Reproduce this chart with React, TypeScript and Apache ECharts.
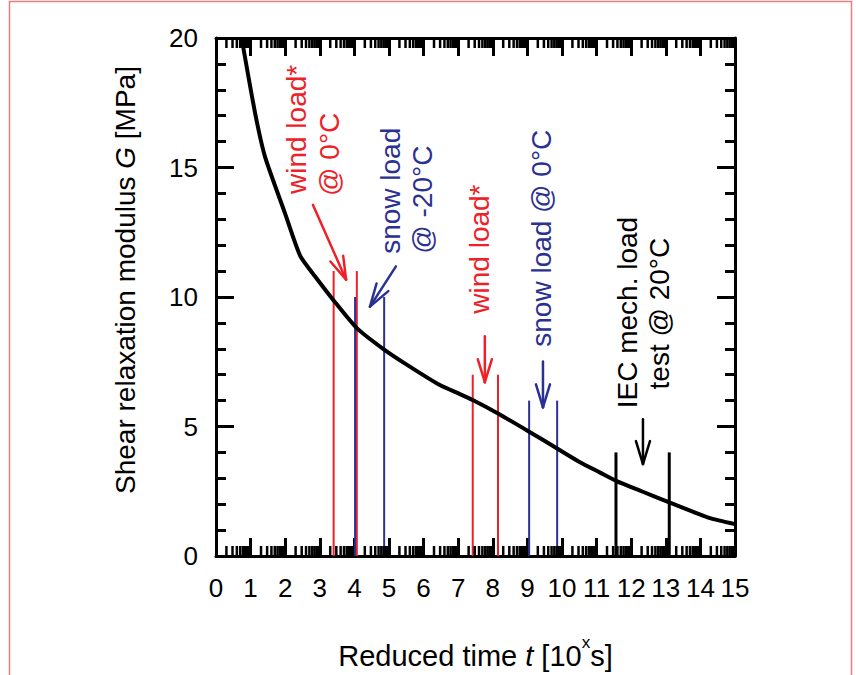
import React, { useEffect, useRef } from 'react';
import * as echarts from 'echarts';

const FONT = '"Liberation Sans", Arial, Helvetica, sans-serif';
const RED = '#ee2128';
const BLUE = '#2b3190';
const BLACK = '#000000';

// Master curve: reduced time (log10 s) vs shear relaxation modulus G (MPa)
const curveX = [0.74, 1.13, 1.42, 1.99, 2.43, 2.86, 3.44, 4.07, 4.83, 5.5, 6.47, 7.05, 7.42, 8.15, 9.05, 9.86, 10.52, 11.1, 11.56, 12.3, 13.1, 14.28, 15];
const curveG = [20, 17.1, 15.4, 13.25, 11.6, 10.8, 9.8, 8.8, 8.0, 7.4, 6.6, 6.25, 6.02, 5.5, 4.8, 4.15, 3.62, 3.22, 2.9, 2.5, 2.07, 1.46, 1.23];

// Load-duration windows (vertical bars)
const windLoad0X = [3.4, 4.07];
const windLoad0H = 11;
const snowLoadM20X = [4.02, 4.86];
const snowLoadM20H = 10;
const windLoadX = [7.42, 8.15];
const windLoadH = 7;
const snowLoad0X = [9.05, 9.86];
const snowLoad0H = 6;
const iecLoadX = [11.56, 13.1];
const iecLoadH = 4;

// Axis ticks
const xMin = 0, xMax = 15, yMin = 0, yMax = 20;
const decadeStarts = [0, 1, 2, 3, 4, 5, 6, 7, 8, 9, 10, 11, 12, 13, 14];
const minorMultipliers = [2, 3, 4, 5, 6, 7, 8, 9];

// Arrows (data coordinates)
const arrowFromX = [2.80, 5.20, 7.77, 9.45, 12.34];
const arrowFromY = [13.56, 11.18, 8.48, 7.51, 5.28];
const arrowToX = [3.76, 4.45, 7.77, 9.45, 12.34];
const arrowToY = [10.67, 9.63, 6.71, 5.74, 3.55];
const arrowColors = [RED, BLUE, RED, BLUE, BLACK];

// Annotation labels (rotated)
const labelTexts = ['wind load*', '@ 0°C', 'snow load', '@ -20°C', 'wind load*', 'snow load @ 0°C', 'IEC mech. load', 'test @ 20°C'];
const labelX = [2.34, 3.29, 5.03, 5.98, 7.63, 9.42, 11.88, 12.83];
const labelY = [16.47, 15.51, 14.10, 13.76, 11.85, 12.27, 9.40, 9.36];
const labelColors = [RED, RED, BLUE, BLUE, RED, BLUE, BLACK, BLACK];

function verticalSeries(xs: number[], h: number, color: string, width: number) {
  return xs.map((x) => ({
    type: 'line',
    data: [[x, 0], [x, h]],
    symbol: 'none',
    silent: true,
    z: 2,
    lineStyle: { color, width },
  }));
}

export default function App() {
  const ref = useRef<HTMLDivElement>(null);
  useEffect(() => {
    if (!ref.current) return;
    const chart = echarts.init(ref.current, undefined, { renderer: 'svg' });

    const minorTicks: number[][] = [];
    decadeStarts.forEach((d) => minorMultipliers.forEach((m) => minorTicks.push([d + Math.log10(m), 0])));

    const axisLine = { show: true, onZero: false, lineStyle: { color: BLACK, width: 3 } };
    const axisTick = { show: true, inside: true, length: 18, lineStyle: { color: BLACK, width: 3 } };

    const option: any = {
      animation: false,
      backgroundColor: '#ffffff',
      grid: { left: 216, right: 121, top: 38, bottom: 118, containLabel: false },
      graphic: [
        {
          type: 'rect',
          shape: { x: 9.5, y: 1.5, width: 842, height: 720 },
          style: { fill: 'none', stroke: '#ec7b82', lineWidth: 1.5 },
          silent: true,
        },
        {
          type: 'text',
          x: 125,
          y: 280,
          rotation: Math.PI / 2,
          style: {
            text: 'Shear relaxation modulus {i|G} [MPa]',
            fill: BLACK,
            fontSize: 28,
            fontFamily: FONT,
            align: 'center',
            verticalAlign: 'middle',
            rich: { i: { fontStyle: 'italic', fontSize: 28, fontFamily: FONT, fill: BLACK } },
          },
        },
      ],
      xAxis: [
        {
          type: 'value', position: 'bottom', min: xMin, max: xMax, interval: 1,
          axisLine, axisTick,
          axisLabel: { margin: 19, fontSize: 26, color: BLACK, fontFamily: FONT },
          splitLine: { show: false },
          name: 'Reduced time {i|t} [10{sup|x}s]',
          nameLocation: 'middle',
          nameGap: 78,
          nameTextStyle: {
            fontSize: 29, color: BLACK, fontFamily: FONT,
            rich: {
              i: { fontSize: 29, fontStyle: 'italic', fontFamily: FONT, color: BLACK },
              sup: { fontSize: 17, fontFamily: FONT, color: BLACK, verticalAlign: 'bottom', padding: [0, 0, 26, 0] },
            },
          },
        },
        {
          type: 'value', position: 'top', min: xMin, max: xMax, interval: 1,
          axisLine, axisTick, axisLabel: { show: false }, splitLine: { show: false },
        },
      ],
      yAxis: [
        {
          type: 'value', position: 'left', min: yMin, max: yMax, interval: 5,
          axisLine, axisTick,
          minorTick: { show: true, splitNumber: 5, length: 10, lineStyle: { color: BLACK, width: 3 } },
          axisLabel: { margin: 18, fontSize: 26, color: BLACK, fontFamily: FONT },
          splitLine: { show: false },
        },
        {
          type: 'value', position: 'right', min: yMin, max: yMax, interval: 5,
          axisLine, axisTick,
          minorTick: { show: true, splitNumber: 5, length: 10, lineStyle: { color: BLACK, width: 3 } },
          axisLabel: { show: false },
          splitLine: { show: false },
        },
      ],
      series: [
        // log-spaced minor ticks on top and bottom axes
        {
          type: 'custom',
          silent: true,
          z: 5,
          clip: false,
          data: minorTicks,
          encode: { x: 0, y: 1 },
          renderItem: (params: any, api: any) => {
            const x = api.value(0);
            const pb = api.coord([x, yMin]);
            const pt = api.coord([x, yMax]);
            const st = { stroke: BLACK, lineWidth: 2.5 };
            return {
              type: 'group',
              children: [
                { type: 'line', shape: { x1: pb[0], y1: pb[1], x2: pb[0], y2: pb[1] - 10 }, style: st },
                { type: 'line', shape: { x1: pt[0], y1: pt[1], x2: pt[0], y2: pt[1] + 10 }, style: st },
              ],
            };
          },
        },
        ...verticalSeries(windLoad0X, windLoad0H, RED, 2),
        ...verticalSeries(snowLoadM20X, snowLoadM20H, BLUE, 2),
        ...verticalSeries(windLoadX, windLoadH, RED, 2),
        ...verticalSeries(snowLoad0X, snowLoad0H, BLUE, 2),
        ...verticalSeries(iecLoadX, iecLoadH, BLACK, 3),
        {
          type: 'line',
          data: curveX.map((x, i) => [x, curveG[i]]),
          symbol: 'none',
          smooth: 0.2,
          z: 4,
          lineStyle: { color: BLACK, width: 4 },
        },
        // arrows
        {
          type: 'custom',
          silent: true,
          z: 6,
          data: arrowFromX.map((x, i) => [x, arrowFromY[i], arrowToX[i], arrowToY[i]]),
          encode: { x: [0, 2], y: [1, 3] },
          renderItem: (params: any, api: any) => {
            const i = params.dataIndex;
            const p1 = api.coord([api.value(0), api.value(1)]);
            const p2 = api.coord([api.value(2), api.value(3)]);
            const ang = Math.atan2(p1[1] - p2[1], p1[0] - p2[0]);
            const L = 24, a = (17 * Math.PI) / 180;
            const st = { stroke: arrowColors[i], lineWidth: 2.5, lineCap: 'round' };
            return {
              type: 'group',
              children: [
                { type: 'line', shape: { x1: p1[0], y1: p1[1], x2: p2[0], y2: p2[1] }, style: st },
                { type: 'line', shape: { x1: p2[0], y1: p2[1], x2: p2[0] + L * Math.cos(ang + a), y2: p2[1] + L * Math.sin(ang + a) }, style: st },
                { type: 'line', shape: { x1: p2[0], y1: p2[1], x2: p2[0] + L * Math.cos(ang - a), y2: p2[1] + L * Math.sin(ang - a) }, style: st },
              ],
            };
          },
        },
        // rotated labels
        {
          type: 'custom',
          silent: true,
          z: 7,
          data: labelX.map((x, i) => [x, labelY[i]]),
          encode: { x: 0, y: 1 },
          renderItem: (params: any, api: any) => {
            const i = params.dataIndex;
            const p = api.coord([api.value(0), api.value(1)]);
            return {
              type: 'text',
              x: p[0],
              y: p[1],
              rotation: Math.PI / 2,
              style: {
                text: labelTexts[i],
                fill: labelColors[i],
                fontSize: 28,
                fontFamily: FONT,
                align: 'center',
                verticalAlign: 'middle',
              },
            };
          },
        },
      ],
    };
    chart.setOption(option);
    return () => chart.dispose();
  }, []);
  return (
    <div style={{ position: 'fixed', left: 0, top: 0, width: 856, height: 675, background: '#fff' }}>
      <div ref={ref} style={{ width: 856, height: 675 }} />
    </div>
  );
}
